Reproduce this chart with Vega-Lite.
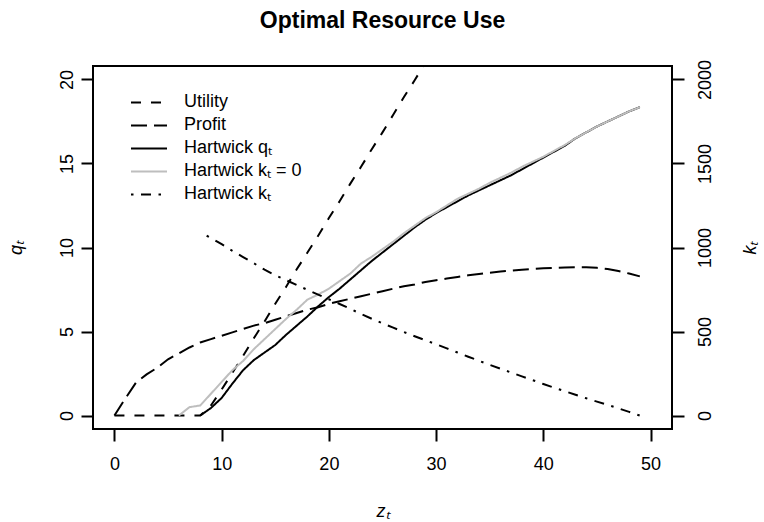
{
  "$schema": "https://vega.github.io/schema/vega-lite/v6.json",
  "width": 579,
  "height": 363,
  "autosize": {"type": "none"},
  "padding": {"left": 93, "top": 66, "right": 92, "bottom": 93},
  "background": "white",
  "title": {"text": "Optimal Resource Use", "fontSize": 23, "fontWeight": "bold", "font": "Liberation Sans", "anchor": "middle", "frame": "group", "offset": 26, "color": "black"},
  "config": {
    "view": {"stroke": "black", "strokeWidth": 2},
    "axis": {"domain": false, "grid": false, "tickSize": 12, "tickWidth": 2, "tickColor": "black", "labelFont": "Liberation Sans", "labelFontSize": 18, "labelColor": "black", "titleFont": "Liberation Sans", "titleFontSize": 18, "titleFontWeight": "normal", "titleColor": "black", "titleFontStyle": "italic"},
    "legend": {"orient": "none", "legendX": 37, "legendY": 25, "symbolType": "stroke", "symbolSize": 1296, "symbolStrokeWidth": 2, "labelFont": "Liberation Sans", "labelFontSize": 18, "labelColor": "black", "labelOffset": 16, "rowPadding": 0, "clipHeight": 22.8, "padding": 0, "title": null}
  },
  "datasets": {
    "q": [
      {"z": 0, "v": 0, "s": "Utility"}, {"z": 1, "v": 0, "s": "Utility"}, {"z": 2, "v": 0, "s": "Utility"}, {"z": 3, "v": 0, "s": "Utility"}, {"z": 4, "v": 0, "s": "Utility"}, {"z": 5, "v": 0, "s": "Utility"}, {"z": 6, "v": 0, "s": "Utility"}, {"z": 7, "v": 0, "s": "Utility"}, {"z": 8, "v": 0, "s": "Utility"}, {"z": 9, "v": 0.6, "s": "Utility"}, {"z": 10, "v": 1.55, "s": "Utility"}, {"z": 11, "v": 2.55, "s": "Utility"}, {"z": 12, "v": 3.55, "s": "Utility"}, {"z": 13, "v": 4.6, "s": "Utility"}, {"z": 14, "v": 5.6, "s": "Utility"}, {"z": 15, "v": 6.65, "s": "Utility"}, {"z": 16, "v": 7.65, "s": "Utility"}, {"z": 17, "v": 8.7, "s": "Utility"}, {"z": 18, "v": 9.7, "s": "Utility"}, {"z": 19, "v": 10.7, "s": "Utility"}, {"z": 20, "v": 11.75, "s": "Utility"}, {"z": 21, "v": 12.75, "s": "Utility"}, {"z": 22, "v": 13.8, "s": "Utility"}, {"z": 23, "v": 14.8, "s": "Utility"}, {"z": 24, "v": 15.85, "s": "Utility"}, {"z": 25, "v": 16.85, "s": "Utility"}, {"z": 26, "v": 17.9, "s": "Utility"}, {"z": 27, "v": 18.95, "s": "Utility"}, {"z": 28, "v": 19.95, "s": "Utility"}, {"z": 29, "v": 21.0, "s": "Utility"}, {"z": 30, "v": 22.0, "s": "Utility"},
      {"z": 0, "v": 0, "s": "Profit"}, {"z": 1, "v": 1.0, "s": "Profit"}, {"z": 2, "v": 1.95, "s": "Profit"}, {"z": 3, "v": 2.45, "s": "Profit"}, {"z": 4, "v": 2.85, "s": "Profit"}, {"z": 5, "v": 3.35, "s": "Profit"}, {"z": 6, "v": 3.7, "s": "Profit"}, {"z": 7, "v": 4.05, "s": "Profit"}, {"z": 8, "v": 4.35, "s": "Profit"}, {"z": 9, "v": 4.55, "s": "Profit"}, {"z": 10, "v": 4.75, "s": "Profit"}, {"z": 11, "v": 4.95, "s": "Profit"}, {"z": 12, "v": 5.15, "s": "Profit"}, {"z": 13, "v": 5.35, "s": "Profit"}, {"z": 14, "v": 5.5, "s": "Profit"}, {"z": 15, "v": 5.7, "s": "Profit"}, {"z": 16, "v": 5.9, "s": "Profit"}, {"z": 17, "v": 6.1, "s": "Profit"}, {"z": 18, "v": 6.3, "s": "Profit"}, {"z": 19, "v": 6.45, "s": "Profit"}, {"z": 20, "v": 6.65, "s": "Profit"}, {"z": 21, "v": 6.8, "s": "Profit"}, {"z": 22, "v": 6.95, "s": "Profit"}, {"z": 23, "v": 7.1, "s": "Profit"}, {"z": 24, "v": 7.25, "s": "Profit"}, {"z": 25, "v": 7.4, "s": "Profit"}, {"z": 26, "v": 7.55, "s": "Profit"}, {"z": 27, "v": 7.7, "s": "Profit"}, {"z": 28, "v": 7.8, "s": "Profit"}, {"z": 29, "v": 7.95, "s": "Profit"}, {"z": 30, "v": 8.05, "s": "Profit"}, {"z": 31, "v": 8.15, "s": "Profit"}, {"z": 32, "v": 8.25, "s": "Profit"}, {"z": 33, "v": 8.35, "s": "Profit"}, {"z": 34, "v": 8.42, "s": "Profit"}, {"z": 35, "v": 8.5, "s": "Profit"}, {"z": 36, "v": 8.57, "s": "Profit"}, {"z": 37, "v": 8.63, "s": "Profit"}, {"z": 38, "v": 8.68, "s": "Profit"}, {"z": 39, "v": 8.72, "s": "Profit"}, {"z": 40, "v": 8.76, "s": "Profit"}, {"z": 41, "v": 8.79, "s": "Profit"}, {"z": 42, "v": 8.81, "s": "Profit"}, {"z": 43, "v": 8.82, "s": "Profit"}, {"z": 44, "v": 8.82, "s": "Profit"}, {"z": 45, "v": 8.79, "s": "Profit"}, {"z": 46, "v": 8.72, "s": "Profit"}, {"z": 47, "v": 8.6, "s": "Profit"}, {"z": 48, "v": 8.45, "s": "Profit"}, {"z": 49, "v": 8.28, "s": "Profit"},
      {"z": 8, "v": 0, "s": "Hartwick  qₜ"}, {"z": 9, "v": 0.45, "s": "Hartwick  qₜ"}, {"z": 10, "v": 1.05, "s": "Hartwick  qₜ"}, {"z": 11, "v": 1.9, "s": "Hartwick  qₜ"}, {"z": 12, "v": 2.7, "s": "Hartwick  qₜ"}, {"z": 13, "v": 3.3, "s": "Hartwick  qₜ"}, {"z": 14, "v": 3.75, "s": "Hartwick  qₜ"}, {"z": 15, "v": 4.2, "s": "Hartwick  qₜ"}, {"z": 16, "v": 4.8, "s": "Hartwick  qₜ"}, {"z": 17, "v": 5.35, "s": "Hartwick  qₜ"}, {"z": 18, "v": 5.9, "s": "Hartwick  qₜ"}, {"z": 19, "v": 6.5, "s": "Hartwick  qₜ"}, {"z": 20, "v": 7.05, "s": "Hartwick  qₜ"}, {"z": 21, "v": 7.55, "s": "Hartwick  qₜ"}, {"z": 22, "v": 8.1, "s": "Hartwick  qₜ"}, {"z": 23, "v": 8.65, "s": "Hartwick  qₜ"}, {"z": 24, "v": 9.2, "s": "Hartwick  qₜ"}, {"z": 25, "v": 9.7, "s": "Hartwick  qₜ"}, {"z": 26, "v": 10.2, "s": "Hartwick  qₜ"}, {"z": 27, "v": 10.7, "s": "Hartwick  qₜ"}, {"z": 28, "v": 11.2, "s": "Hartwick  qₜ"}, {"z": 29, "v": 11.65, "s": "Hartwick  qₜ"}, {"z": 30, "v": 12.05, "s": "Hartwick  qₜ"}, {"z": 31, "v": 12.4, "s": "Hartwick  qₜ"}, {"z": 32, "v": 12.75, "s": "Hartwick  qₜ"}, {"z": 33, "v": 13.1, "s": "Hartwick  qₜ"}, {"z": 34, "v": 13.4, "s": "Hartwick  qₜ"}, {"z": 35, "v": 13.7, "s": "Hartwick  qₜ"}, {"z": 36, "v": 14.0, "s": "Hartwick  qₜ"}, {"z": 37, "v": 14.3, "s": "Hartwick  qₜ"}, {"z": 38, "v": 14.65, "s": "Hartwick  qₜ"}, {"z": 39, "v": 15.0, "s": "Hartwick  qₜ"}, {"z": 40, "v": 15.35, "s": "Hartwick  qₜ"}, {"z": 41, "v": 15.7, "s": "Hartwick  qₜ"}, {"z": 42, "v": 16.05, "s": "Hartwick  qₜ"}, {"z": 43, "v": 16.5, "s": "Hartwick  qₜ"}, {"z": 44, "v": 16.85, "s": "Hartwick  qₜ"}, {"z": 45, "v": 17.2, "s": "Hartwick  qₜ"}, {"z": 46, "v": 17.5, "s": "Hartwick  qₜ"}, {"z": 47, "v": 17.8, "s": "Hartwick  qₜ"}, {"z": 48, "v": 18.1, "s": "Hartwick  qₜ"}, {"z": 49, "v": 18.35, "s": "Hartwick  qₜ"},
      {"z": 6, "v": 0, "s": "Hartwick  kₜ = 0"}, {"z": 7, "v": 0.5, "s": "Hartwick  kₜ = 0"}, {"z": 8, "v": 0.6, "s": "Hartwick  kₜ = 0"}, {"z": 9, "v": 1.3, "s": "Hartwick  kₜ = 0"}, {"z": 10, "v": 2.0, "s": "Hartwick  kₜ = 0"}, {"z": 11, "v": 2.7, "s": "Hartwick  kₜ = 0"}, {"z": 12, "v": 3.25, "s": "Hartwick  kₜ = 0"}, {"z": 13, "v": 3.95, "s": "Hartwick  kₜ = 0"}, {"z": 14, "v": 4.55, "s": "Hartwick  kₜ = 0"}, {"z": 15, "v": 5.15, "s": "Hartwick  kₜ = 0"}, {"z": 16, "v": 5.75, "s": "Hartwick  kₜ = 0"}, {"z": 17, "v": 6.3, "s": "Hartwick  kₜ = 0"}, {"z": 18, "v": 6.9, "s": "Hartwick  kₜ = 0"}, {"z": 19, "v": 7.2, "s": "Hartwick  kₜ = 0"}, {"z": 20, "v": 7.55, "s": "Hartwick  kₜ = 0"}, {"z": 21, "v": 8.0, "s": "Hartwick  kₜ = 0"}, {"z": 22, "v": 8.45, "s": "Hartwick  kₜ = 0"}, {"z": 23, "v": 9.05, "s": "Hartwick  kₜ = 0"}, {"z": 24, "v": 9.45, "s": "Hartwick  kₜ = 0"}, {"z": 25, "v": 9.9, "s": "Hartwick  kₜ = 0"}, {"z": 26, "v": 10.35, "s": "Hartwick  kₜ = 0"}, {"z": 27, "v": 10.85, "s": "Hartwick  kₜ = 0"}, {"z": 28, "v": 11.3, "s": "Hartwick  kₜ = 0"}, {"z": 29, "v": 11.75, "s": "Hartwick  kₜ = 0"}, {"z": 30, "v": 12.1, "s": "Hartwick  kₜ = 0"}, {"z": 31, "v": 12.5, "s": "Hartwick  kₜ = 0"}, {"z": 32, "v": 12.9, "s": "Hartwick  kₜ = 0"}, {"z": 33, "v": 13.2, "s": "Hartwick  kₜ = 0"}, {"z": 34, "v": 13.5, "s": "Hartwick  kₜ = 0"}, {"z": 35, "v": 13.85, "s": "Hartwick  kₜ = 0"}, {"z": 36, "v": 14.15, "s": "Hartwick  kₜ = 0"}, {"z": 37, "v": 14.45, "s": "Hartwick  kₜ = 0"}, {"z": 38, "v": 14.8, "s": "Hartwick  kₜ = 0"}, {"z": 39, "v": 15.1, "s": "Hartwick  kₜ = 0"}, {"z": 40, "v": 15.4, "s": "Hartwick  kₜ = 0"}, {"z": 41, "v": 15.75, "s": "Hartwick  kₜ = 0"}, {"z": 42, "v": 16.1, "s": "Hartwick  kₜ = 0"}, {"z": 43, "v": 16.5, "s": "Hartwick  kₜ = 0"}, {"z": 44, "v": 16.85, "s": "Hartwick  kₜ = 0"}, {"z": 45, "v": 17.2, "s": "Hartwick  kₜ = 0"}, {"z": 46, "v": 17.5, "s": "Hartwick  kₜ = 0"}, {"z": 47, "v": 17.8, "s": "Hartwick  kₜ = 0"}, {"z": 48, "v": 18.1, "s": "Hartwick  kₜ = 0"}, {"z": 49, "v": 18.35, "s": "Hartwick  kₜ = 0"}
    ],
    "k": [
      {"z": 8.6, "v": 1070, "s": "Hartwick  kₜ"}, {"z": 9, "v": 1057, "s": "Hartwick  kₜ"}, {"z": 10, "v": 1020, "s": "Hartwick  kₜ"}, {"z": 11, "v": 980, "s": "Hartwick  kₜ"}, {"z": 12, "v": 943, "s": "Hartwick  kₜ"}, {"z": 13, "v": 906, "s": "Hartwick  kₜ"}, {"z": 14, "v": 868, "s": "Hartwick  kₜ"}, {"z": 15, "v": 835, "s": "Hartwick  kₜ"}, {"z": 16, "v": 806, "s": "Hartwick  kₜ"}, {"z": 17, "v": 777, "s": "Hartwick  kₜ"}, {"z": 18, "v": 748, "s": "Hartwick  kₜ"}, {"z": 19, "v": 720, "s": "Hartwick  kₜ"}, {"z": 20, "v": 692, "s": "Hartwick  kₜ"}, {"z": 21, "v": 664, "s": "Hartwick  kₜ"}, {"z": 22, "v": 635, "s": "Hartwick  kₜ"}, {"z": 23, "v": 604, "s": "Hartwick  kₜ"}, {"z": 24, "v": 576, "s": "Hartwick  kₜ"}, {"z": 25, "v": 549, "s": "Hartwick  kₜ"}, {"z": 26, "v": 523, "s": "Hartwick  kₜ"}, {"z": 27, "v": 497, "s": "Hartwick  kₜ"}, {"z": 28, "v": 472, "s": "Hartwick  kₜ"}, {"z": 29, "v": 448, "s": "Hartwick  kₜ"}, {"z": 30, "v": 424, "s": "Hartwick  kₜ"}, {"z": 31, "v": 400, "s": "Hartwick  kₜ"}, {"z": 32, "v": 375, "s": "Hartwick  kₜ"}, {"z": 33, "v": 350, "s": "Hartwick  kₜ"}, {"z": 34, "v": 326, "s": "Hartwick  kₜ"}, {"z": 35, "v": 302, "s": "Hartwick  kₜ"}, {"z": 36, "v": 279, "s": "Hartwick  kₜ"}, {"z": 37, "v": 256, "s": "Hartwick  kₜ"}, {"z": 38, "v": 233, "s": "Hartwick  kₜ"}, {"z": 39, "v": 211, "s": "Hartwick  kₜ"}, {"z": 40, "v": 188, "s": "Hartwick  kₜ"}, {"z": 41, "v": 166, "s": "Hartwick  kₜ"}, {"z": 42, "v": 145, "s": "Hartwick  kₜ"}, {"z": 43, "v": 124, "s": "Hartwick  kₜ"}, {"z": 44, "v": 103, "s": "Hartwick  kₜ"}, {"z": 45, "v": 83, "s": "Hartwick  kₜ"}, {"z": 46, "v": 63, "s": "Hartwick  kₜ"}, {"z": 47, "v": 43, "s": "Hartwick  kₜ"}, {"z": 48, "v": 22, "s": "Hartwick  kₜ"}, {"z": 49, "v": 0, "s": "Hartwick  kₜ"}
    ]
  },
  "encoding": {
    "x": {"field": "z", "type": "quantitative", "scale": {"domain": [-2, 52], "nice": false, "zero": false}, "axis": {"values": [0, 10, 20, 30, 40, 50], "labelPadding": 14, "title": "zₜ", "titlePadding": 29}},
    "color": {"field": "s", "type": "nominal", "scale": {"domain": ["Utility", "Profit", "Hartwick  qₜ", "Hartwick  kₜ = 0", "Hartwick  kₜ"], "range": ["black", "black", "black", "#bebebe", "black"]}, "legend": {"title": null}},
    "strokeDash": {"field": "s", "type": "nominal", "scale": {"domain": ["Utility", "Profit", "Hartwick  qₜ", "Hartwick  kₜ = 0", "Hartwick  kₜ"], "range": [[10, 10], [16, 7], [1, 0], [1, 0], [2.5, 7.5, 10, 7.5]]}, "legend": {"title": null}}
  },
  "layer": [
    {
      "data": {"name": "q"},
      "mark": {"type": "line", "strokeWidth": 2, "clip": true, "strokeCap": "butt"},
      "encoding": {
        "y": {"field": "v", "type": "quantitative", "scale": {"domain": [-0.8, 20.8], "nice": false, "zero": false}, "axis": {"orient": "left", "values": [0, 5, 10, 15, 20], "labelAngle": -90, "labelAlign": "center", "labelBaseline": "bottom", "labelPadding": 5, "title": "qₜ", "titlePadding": 33}}
      }
    },
    {
      "data": {"name": "k"},
      "mark": {"type": "line", "strokeWidth": 2, "clip": true, "strokeCap": "butt"},
      "encoding": {
        "y": {"field": "v", "type": "quantitative", "scale": {"domain": [-80, 2080], "nice": false, "zero": false}, "axis": {"orient": "right", "values": [0, 500, 1000, 1500, 2000], "format": "d", "labelAngle": -90, "labelAlign": "center", "labelBaseline": "top", "labelPadding": 12, "title": "kₜ", "titleAngle": -90, "titlePadding": 45}}
      }
    }
  ],
  "resolve": {"scale": {"y": "independent"}}
}
